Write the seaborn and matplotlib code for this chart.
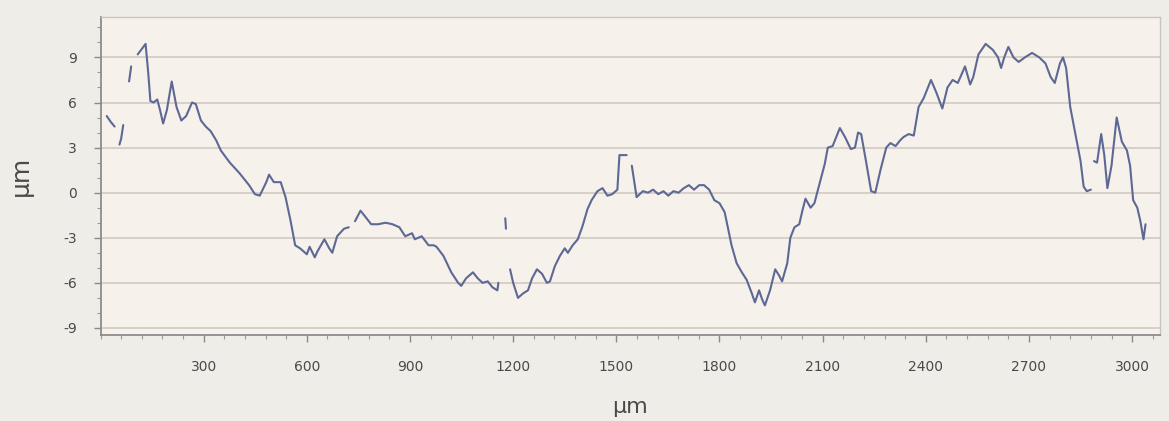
import numpy as np
import pandas as pd
import matplotlib
matplotlib.use("Agg")
import matplotlib.pyplot as plt
from matplotlib.ticker import MultipleLocator
import seaborn as sns

# Surface profile (position in µm, height in µm); the trace is split into
# pieces where the scan has no valid readings.
seg_ids = [0, 1, 2, 3, 4, 5, 6, 7, 8]
x_pieces = [
    [18, 30, 41],
    [55, 60, 66],
    [83, 89],
    [108, 118, 131, 139, 145, 154, 165, 173, 182, 193, 207, 221, 235, 249, 266,
     277, 292, 306, 320, 336, 350, 376, 404, 432, 449, 463, 482, 490, 504, 524,
     538, 552, 566, 580, 600, 608, 623, 631, 651, 665, 674, 688, 708, 722],
    [740, 756, 770, 787, 807, 829, 849, 869, 886, 906, 914, 934, 954, 969, 977,
     997, 1020, 1040, 1049, 1063, 1083, 1097, 1111, 1126, 1140, 1154, 1157],
    [1177, 1179],
    [1191, 1200, 1214, 1229, 1243, 1255, 1269, 1284, 1298, 1307, 1321, 1336,
     1350, 1359, 1373, 1388, 1402, 1416, 1428, 1445, 1460, 1474, 1488, 1503,
     1509, 1530],
    [1545, 1559, 1577, 1592, 1607, 1622, 1637, 1651, 1666, 1681, 1696, 1711,
     1726, 1741, 1755, 1770, 1785, 1800, 1815, 1826, 1835, 1850, 1865, 1879,
     1894, 1903, 1915, 1924, 1932, 1947, 1962, 1973, 1982, 1997, 2006, 2018,
     2032, 2041, 2050, 2065, 2076, 2091, 2106, 2115, 2129, 2150, 2165, 2182,
     2194, 2203, 2212, 2226, 2241, 2253, 2268, 2285, 2297, 2312, 2326, 2335,
     2350, 2365, 2379, 2394, 2415, 2430, 2448, 2463, 2478, 2493, 2514, 2529,
     2538, 2553, 2574, 2595, 2610, 2619, 2628, 2640, 2655, 2670, 2688, 2709,
     2730, 2748, 2763, 2775, 2790, 2799, 2808, 2820, 2835, 2850, 2859, 2868,
     2880],
    [2889, 2898, 2910, 2919, 2928, 2940, 2955, 2970, 2985, 2994, 3003, 3015,
     3024, 3033, 3039],
]
z_pieces = [
    [5.1, 4.7, 4.4],
    [3.2, 3.6, 4.5],
    [7.4, 8.4],
    [9.2, 9.5, 9.9, 7.9, 6.1, 6.0, 6.2, 5.5, 4.6, 5.5, 7.4, 5.7, 4.8, 5.1, 6.0,
     5.9, 4.8, 4.4, 4.1, 3.5, 2.8, 2.0, 1.3, 0.5, -0.1, -0.2, 0.7, 1.2, 0.7, 0.7,
     -0.3, -1.8, -3.5, -3.7, -4.1, -3.6, -4.3, -3.9, -3.1, -3.7, -4.0, -2.9, -2.4, -2.3],
    [-1.9, -1.2, -1.6, -2.1, -2.1, -2.0, -2.1, -2.3, -2.9, -2.7, -3.1, -2.9,
     -3.5, -3.5, -3.6, -4.2, -5.3, -6.0, -6.2, -5.7, -5.3, -5.7, -6.0, -5.9,
     -6.3, -6.5, -6.0],
    [-1.7, -2.4],
    [-5.1, -6.0, -7.0, -6.7, -6.5, -5.7, -5.1, -5.4, -6.0, -5.9, -4.9, -4.2,
     -3.7, -4.0, -3.5, -3.1, -2.2, -1.1, -0.5, 0.1, 0.3, -0.2, -0.1, 0.2,
     2.5, 2.5],
    [1.8, -0.3, 0.1, 0.0, 0.2, -0.1, 0.1, -0.2, 0.1, 0.0, 0.3, 0.5,
     0.2, 0.5, 0.5, 0.2, -0.5, -0.7, -1.3, -2.5, -3.5, -4.7, -5.3, -5.8,
     -6.7, -7.3, -6.5, -7.1, -7.5, -6.5, -5.1, -5.5, -5.9, -4.7, -3.0, -2.3,
     -2.1, -1.2, -0.4, -1.0, -0.7, 0.6, 1.9, 3.0, 3.1, 4.3, 3.7, 2.9,
     3.0, 4.0, 3.9, 2.1, 0.1, 0.0, 1.5, 3.0, 3.3, 3.1, 3.5, 3.7,
     3.9, 3.8, 5.7, 6.3, 7.5, 6.7, 5.6, 7.0, 7.5, 7.3, 8.4, 7.2,
     7.7, 9.2, 9.9, 9.5, 9.0, 8.3, 9.0, 9.7, 9.0, 8.7, 9.0, 9.3,
     9.0, 8.6, 7.7, 7.3, 8.6, 9.0, 8.3, 5.7, 3.9, 2.1, 0.4, 0.1,
     0.2],
    [2.1, 2.0, 3.9, 2.5, 0.3, 1.8, 5.0, 3.4, 2.8, 1.8, -0.5, -1.0,
     -1.9, -3.1, -2.1],
]
x_ticks = [300, 600, 900, 1200, 1500, 1800, 2100, 2400, 2700, 3000]
y_ticks = [-9, -6, -3, 0, 3, 6, 9]

profile = pd.DataFrame({
    "position": np.concatenate(x_pieces),
    "height": np.concatenate(z_pieces),
    "piece": np.concatenate([[s] * len(xs) for s, xs in zip(seg_ids, x_pieces)]),
})

sns.set_theme(style="ticks")
plt.rcParams["font.family"] = ["DejaVu Sans"]
plt.rcParams["axes.unicode_minus"] = False

fig = plt.figure(figsize=(11.69, 4.21), dpi=100, facecolor="#efede7")
ax = fig.add_axes([0.086, 0.205, 0.906, 0.755])
ax.set_facecolor("#f6f1eb")

for y in y_ticks:
    ax.axhline(y, color="#d3cdc6", lw=1.3, zorder=0)

sns.lineplot(data=profile, x="position", y="height", units="piece",
             estimator=None, sort=False, color="#5d6894", lw=1.5, ax=ax,
             legend=False)

ax.set_xlim(0, 3080)
ax.set_ylim(-9.45, 11.7)
ax.set_xticks(x_ticks)
ax.set_yticks(y_ticks)
ax.xaxis.set_minor_locator(MultipleLocator(60))
ax.yaxis.set_minor_locator(MultipleLocator(1))
ax.tick_params(axis="both", which="major", direction="out", length=5,
               width=1, color="#8a8a8a", labelsize=10, labelcolor="#4a4a4a")
ax.tick_params(axis="both", which="minor", direction="out", length=3,
               width=0.8, color="#9a9a9a")
ax.tick_params(axis="x", pad=13)
ax.tick_params(axis="y", pad=12)

for side in ["left", "bottom"]:
    ax.spines[side].set_color("#8c8c8c")
    ax.spines[side].set_linewidth(1.3)
for side in ["top", "right"]:
    ax.spines[side].set_color("#c9c4be")
    ax.spines[side].set_linewidth(1.0)

ax.set_xlabel("µm", fontsize=16, color="#4a4a4a", labelpad=17)
ax.set_ylabel("µm", fontsize=18, color="#4a4a4a", labelpad=22)

fig.savefig("out.png", dpi=100, facecolor=fig.get_facecolor())
